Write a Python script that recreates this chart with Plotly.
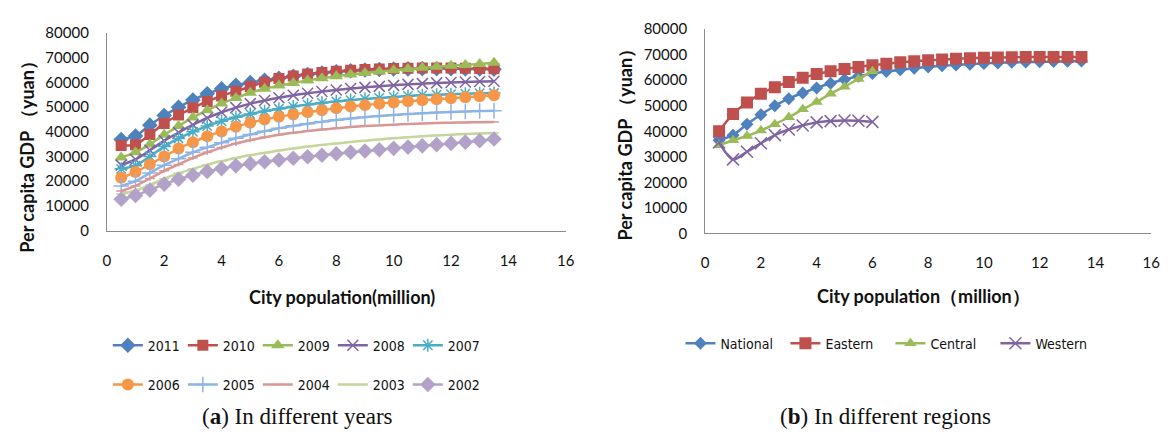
import plotly.graph_objects as go

# ---------------- data ----------------
pop_x = [0.5, 1, 1.5, 2, 2.5, 3, 3.5, 4, 4.5, 5, 5.5, 6, 6.5, 7, 7.5, 8, 8.5, 9, 9.5,
         10, 10.5, 11, 11.5, 12, 12.5, 13, 13.5]

gdp_2011 = [36900, 38300, 42700, 46600, 49900, 52900, 55400, 57400, 58800, 59900, 60900, 61700, 62500,
            63200, 63800, 64300, 64700, 65000, 65200, 65400, 65500, 65600, 65600, 65600, 65500, 65400, 65300]
gdp_2010 = [34500, 34800, 38900, 43400, 46800, 49700, 52300, 54500, 56400, 58300, 60100, 61600, 62600,
            63400, 64000, 64500, 64900, 65200, 65400, 65600, 65700, 65800, 65800, 65800, 65700, 65600, 65500]
gdp_2009 = [29600, 31700, 34900, 38800, 42300, 45800, 48700, 51500, 53700, 55800, 57400, 58700, 59800,
            60800, 61700, 62500, 63200, 63800, 64400, 64900, 65400, 65900, 66300, 66700, 67100, 67500, 68000]
gdp_2008 = [26500, 28800, 32500, 36400, 39700, 42800, 45600, 47900, 49800, 51400, 52700, 53800, 54800,
            55600, 56300, 56900, 57500, 58000, 58400, 58800, 59200, 59500, 59800, 60000, 60200, 60400, 60500]
gdp_2007 = [25000, 26300, 30000, 34000, 37300, 40000, 42300, 44300, 45900, 47200, 48300, 49300, 50200,
            51000, 51700, 52300, 52800, 53300, 53700, 54100, 54500, 54800, 55000, 55200, 55400, 55600, 55700]
gdp_2006 = [21400, 23700, 26800, 30000, 33200, 35800, 38200, 40100, 42000, 43700, 45000, 46100, 47000,
            47900, 48700, 49500, 50200, 50800, 51400, 51900, 52400, 52800, 53200, 53600, 54000, 54400, 54800]
gdp_2005 = [18100, 20000, 23300, 26500, 29100, 31700, 33700, 35600, 37400, 38900, 40200, 41400, 42400,
            43300, 44100, 44800, 45400, 45900, 46400, 46800, 47200, 47500, 47800, 48000, 48200, 48400, 48500]
gdp_2004 = [16000, 18100, 21100, 24200, 26800, 29400, 31700, 33600, 35300, 36600, 37800, 38800, 39600,
            40300, 40900, 41400, 41900, 42300, 42600, 42900, 43200, 43400, 43600, 43700, 43800, 43900, 44000]
gdp_2003 = [14800, 16200, 18500, 21000, 23200, 25000, 26700, 28100, 29400, 30500, 31500, 32400, 33200,
            34000, 34700, 35300, 35900, 36400, 36900, 37400, 37800, 38200, 38500, 38800, 39100, 39300, 39500]
gdp_2002 = [12700, 14200, 16400, 18800, 20800, 22400, 23900, 25100, 26200, 27100, 27900, 28600, 29300,
            29900, 30500, 31100, 31700, 32200, 32700, 33300, 33800, 34300, 34800, 35300, 35800, 36400, 37100]

year_names = ["2011", "2010", "2009", "2008", "2007", "2006", "2005", "2004", "2003", "2002"]
year_series = [gdp_2011, gdp_2010, gdp_2009, gdp_2008, gdp_2007,
               gdp_2006, gdp_2005, gdp_2004, gdp_2003, gdp_2002]

region_x_long = pop_x
region_x_short = [0.5, 1, 1.5, 2, 2.5, 3, 3.5, 4, 4.5, 5, 5.5, 6]
national = [36500, 38500, 42800, 46500, 50000, 52800, 55000, 57000, 58800, 60300, 61600, 62600, 63400,
            64100, 64700, 65200, 65700, 66000, 66300, 66600, 66800, 67000, 67100, 67200, 67300, 67400, 67500]
eastern = [40000, 46800, 51300, 54700, 57300, 59300, 61000, 62400, 63500, 64400, 65200, 65900, 66500,
           67000, 67400, 67800, 68100, 68400, 68600, 68800, 68900, 69000, 69100, 69100, 69100, 69100, 69100]
central = [34500, 36500, 38200, 40300, 42800, 45500, 48600, 51500, 54700, 57500, 60500, 63500]
western = [35600, 29000, 32000, 35300, 38500, 40700, 42300, 43500, 44000, 44200, 44100, 43700]

region_names = ["National", "Eastern", "Central", "Western"]

x_ticks = [0, 2, 4, 6, 8, 10, 12, 14, 16]
y_ticks = [0, 10000, 20000, 30000, 40000, 50000, 60000, 70000, 80000]

# ---------------- styles ----------------
W, H = 1174, 439
year_colors = ["#4F81BD", "#C0504D", "#9BBB59", "#8064A2", "#4BACC6",
               "#F79646", "#8EB4E3", "#D99694", "#C3D69B", "#B3A2C7"]
year_symbols = ["diamond", "square", "triangle-up", "x-thin-open", "asterisk-open",
                "circle", "cross-thin-open", "line-ew-open", "line-ew-open", "diamond"]
year_sizes = [12, 11, 12, 11, 11, 12, 11, 7, 7, 12]
region_colors = ["#4F81BD", "#C0504D", "#9BBB59", "#8064A2"]
region_symbols = ["diamond", "square", "triangle-up", "x-thin-open"]
region_sizes = [10, 12, 11, 12]

fig = go.Figure()

for i, (name, ys) in enumerate(zip(year_names, year_series)):
    c = year_colors[i]
    fig.add_trace(go.Scatter(
        x=pop_x, y=ys, name=name, mode="lines+markers",
        line=dict(color=c, width=2.5, shape="spline", smoothing=0.8),
        marker=dict(symbol=year_symbols[i], size=year_sizes[i], color=c,
                    line=dict(color=c, width=1.5 if "open" in year_symbols[i] else 0)),
        xaxis="x", yaxis="y",
        legend="legend" if i < 5 else "legend2",
    ))

region_data = [(region_x_long, national), (region_x_long, eastern),
               (region_x_short, central), (region_x_short, western)]
for i, (name, (xs, ys)) in enumerate(zip(region_names, region_data)):
    c = region_colors[i]
    fig.add_trace(go.Scatter(
        x=xs, y=ys, name=name, mode="lines+markers",
        line=dict(color=c, width=2.5, shape="spline", smoothing=0.8),
        marker=dict(symbol=region_symbols[i], size=region_sizes[i], color=c,
                    line=dict(color=c, width=1.5 if "open" in region_symbols[i] else 0)),
        xaxis="x2", yaxis="y2", legend="legend3",
    ))

tick_font = dict(family="Lato, 'Open Sans', sans-serif", size=15, color="#111")
axis_common = dict(showgrid=False, zeroline=False, showline=True, linecolor="#8c8c8c",
                   linewidth=1, ticks="", tickfont=tick_font, fixedrange=True)


def px_x(p):
    return p / W


def px_y(p):
    return 1 - p / H


fig.update_layout(
    width=W, height=H, margin=dict(l=0, r=0, t=0, b=0),
    paper_bgcolor="white", plot_bgcolor="white",
    xaxis=dict(domain=[px_x(104), px_x(568)], range=[0, 16], tickvals=x_ticks,
               anchor="y", ticklabelstandoff=16, **axis_common),
    yaxis=dict(domain=[px_y(230), px_y(24)], range=[0, 80000], tickvals=y_ticks,
               tickformat="d", anchor="x", ticklabelstandoff=14, **axis_common),
    xaxis2=dict(domain=[px_x(709), px_x(1160)], range=[0, 16], tickvals=x_ticks,
                anchor="y2", ticklabelstandoff=16, **axis_common),
    yaxis2=dict(domain=[px_y(233), px_y(20)], range=[0, 80000], tickvals=y_ticks,
                tickformat="d", anchor="x2", ticklabelstandoff=14, **axis_common),
)

leg_font = dict(family="'DejaVu Sans Condensed', 'Liberation Sans Narrow', 'Arial Narrow', sans-serif",
                size=14, color="#111")
fig.update_layout(
    legend=dict(orientation="h", x=px_x(105), y=px_y(350), xanchor="left", yanchor="middle",
                font=leg_font, entrywidth=30, itemwidth=30, bgcolor="rgba(0,0,0,0)"),
    legend2=dict(orientation="h", x=px_x(105), y=px_y(391), xanchor="left", yanchor="middle",
                 font=leg_font, entrywidth=30, itemwidth=30, bgcolor="rgba(0,0,0,0)"),
    legend3=dict(orientation="h", x=px_x(684), y=px_y(348), xanchor="left", yanchor="middle",
                 font=leg_font, entrywidth=60, itemwidth=30, bgcolor="rgba(0,0,0,0)"),
)

title_font = dict(family="Lato, 'Open Sans', sans-serif", size=18, color="#111", weight="bold")
cap_font = dict(family="'Liberation Serif', 'DejaVu Serif', serif", size=23, color="#111")
annots = [
    dict(text="City population(million)", x=px_x(342), y=px_y(299), font=title_font),
    dict(text="City population（million）", x=px_x(930), y=px_y(298), font=title_font),
    dict(text="Per capita GDP （yuan）", x=px_x(23), y=px_y(148), font=title_font, textangle=-90),
    dict(text="Per capita GDP （yuan）", x=px_x(628), y=px_y(136), font=title_font, textangle=-90),
    dict(text="(<b>a</b>) In different years", x=px_x(297), y=px_y(424), font=cap_font),
    dict(text="(<b>b</b>) In different regions", x=px_x(891), y=px_y(424), font=cap_font),
]
for a in annots:
    a.update(xref="paper", yref="paper", showarrow=False, xanchor="center", yanchor="middle")
fig.update_layout(annotations=annots)

fig.write_html("out.html")
